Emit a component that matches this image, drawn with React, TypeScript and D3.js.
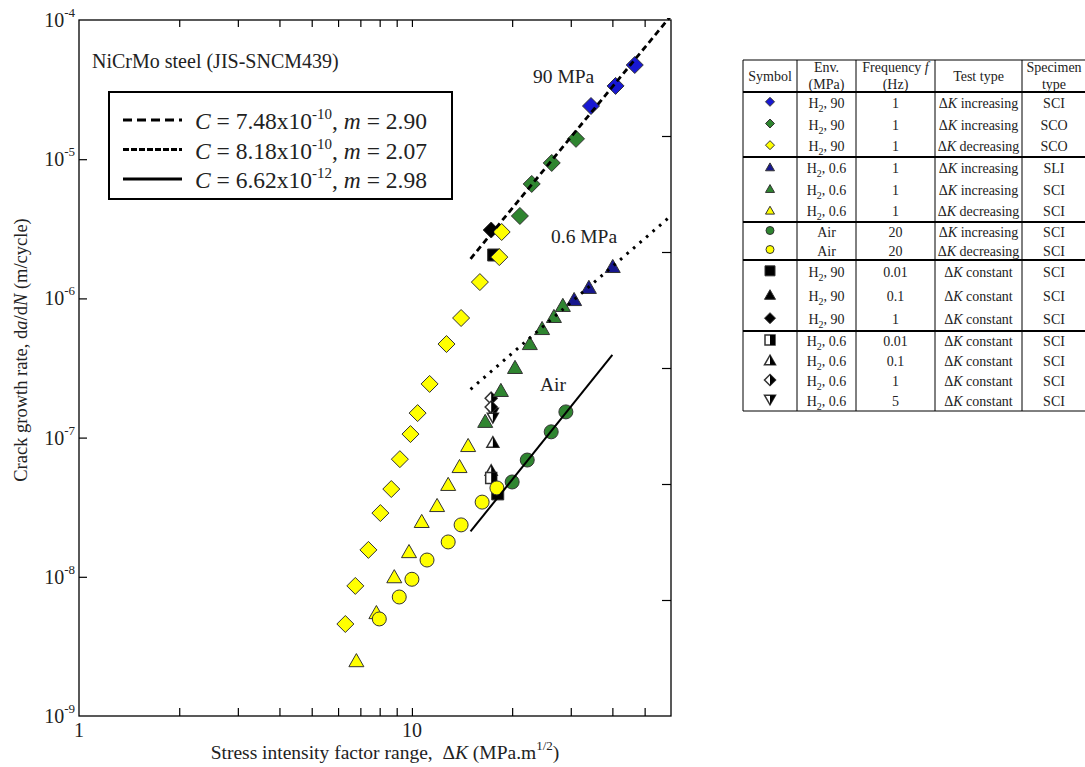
import React, { useEffect, useRef } from "react";
import * as d3 from "d3";

const W = 1085;
const H = 767;

// [ΔK (MPa.m^1/2), da/dN (m/cycle)]
const h90IncSCI = [[46.7, 4.75e-5], [40.9, 3.36e-5], [34.5, 2.41e-5]];
const h90IncSCO = [[31.1, 1.4e-5], [26.3, 9.4e-6], [22.9, 6.64e-6], [21.1, 3.91e-6]];
const h90DecSCO = [[18.6, 3.0e-6], [18.3, 1.98e-6], [16.0, 1.31e-6], [14.05, 7.23e-7], [12.7, 4.7e-7], [11.3, 2.43e-7], [10.4, 1.5e-7], [9.9, 1.06e-7], [9.2, 7.0e-8], [8.67, 4.27e-8], [8.04, 2.87e-8], [7.4, 1.56e-8], [6.76, 8.6e-9], [6.31, 4.58e-9]];
const h06IncSLI = [[40.1, 1.71e-6], [34.0, 1.21e-6], [30.7, 9.9e-7]];
const h06IncSCI = [[28.4, 8.98e-7], [26.7, 7.48e-7], [24.6, 6.13e-7], [22.6, 4.78e-7], [20.4, 3.22e-7], [18.5, 2.2e-7], [16.6, 1.32e-7]];
const h06DecSCI = [[14.75, 8.85e-8], [13.9, 6.25e-8], [12.85, 4.65e-8], [11.9, 3.28e-8], [10.7, 2.52e-8], [9.8, 1.53e-8], [8.85, 1.01e-8], [7.82, 5.58e-9], [6.81, 2.52e-9]];
const airInc = [[29.0, 1.53e-7], [26.2, 1.1e-7], [22.2, 6.9e-8], [20.0, 4.8e-8]];
const airDec = [[18.0, 4.35e-8], [16.25, 3.44e-8], [14.05, 2.36e-8], [12.85, 1.78e-8], [11.1, 1.32e-8], [10.0, 9.6e-9], [9.16, 7.16e-9], [7.98, 4.98e-9]];
const h90Const001 = [[17.6, 2.05e-6], [18.1, 3.94e-8]];
const h90Const1 = [[17.3, 3.1e-6]];
const h06Const001 = [[17.3, 5.13e-8]];
const h06Const01 = [[17.5, 9.3e-8], [17.3, 5.85e-8]];
const h06Const1 = [[17.3, 1.92e-7], [17.3, 1.66e-7]];
const h06Const5 = [[17.5, 1.5e-7], [17.5, 1.38e-7]];

// Paris law fits da/dN = C ΔK^m
const fitLabels = ["90 MPa", "0.6 MPa", "Air"];
const fitC = [7.48e-10, 8.18e-10, 6.62e-12];
const fitCmant = ["7.48", "8.18", "6.62"];
const fitCexp = ["-10", "-10", "-12"];
const fitM = [2.9, 2.07, 2.98];
const fitRange = [[15, 60], [15, 60], [15, 40]];

const xTicks = [2, 3, 4, 5, 6, 7, 8, 9, 10, 20, 30, 40, 50];
const yTicks = [1e-4, 1e-5, 1e-6, 1e-7, 1e-8, 1e-9];
const yTickExp = ["-4", "-5", "-6", "-7", "-8", "-9"];
const yRightTicks = [1e-5, 1e-6, 1e-7, 1e-8, 1e-9];

// table
const tabSymbol = ["blueD", "greenD", "yellowD", "blueT", "greenT", "yellowT", "greenC", "yellowC", "blackS", "blackT", "blackD", "halfS", "halfT", "halfD", "halfV"];
const tabGas = ["H", "H", "H", "H", "H", "H", "Air", "Air", "H", "H", "H", "H", "H", "H", "H"];
const tabP = ["90", "90", "90", "0.6", "0.6", "0.6", "", "", "90", "90", "90", "0.6", "0.6", "0.6", "0.6"];
const tabFreq = ["1", "1", "1", "1", "1", "1", "20", "20", "0.01", "0.1", "1", "0.01", "0.1", "1", "5"];
const tabTest = ["increasing", "increasing", "decreasing", "increasing", "increasing", "decreasing", "increasing", "decreasing", "constant", "constant", "constant", "constant", "constant", "constant", "constant"];
const tabSpec = ["SCI", "SCO", "SCO", "SLI", "SCI", "SCI", "SCI", "SCI", "SCI", "SCI", "SCI", "SCI", "SCI", "SCI", "SCI"];
const tabGroups = [3, 3, 2, 3, 4];

const BLUE = "#1818d2";
const NAVY = "#17178e";
const GREEN = "#2f8530";
const YELLOW = "#ffff00";
const EDGE = "#333";

function marker(g: any, kind: string, cx: number, cy: number, s: number, fill: string) {
  const p = (d: string, f: string, sw = 1) =>
    g.append("path").attr("d", d).attr("fill", f).attr("stroke", EDGE).attr("stroke-width", sw).attr("stroke-linejoin", "miter");
  const dia = `M${cx},${cy - s}L${cx + s},${cy}L${cx},${cy + s}L${cx - s},${cy}Z`;
  const h = s * 1.75;
  const tri = `M${cx},${cy - h / 2}L${cx + s},${cy + h / 2}L${cx - s},${cy + h / 2}Z`;
  if (kind === "diamond") p(dia, fill);
  else if (kind === "triangle") p(tri, fill);
  else if (kind === "circle") g.append("circle").attr("cx", cx).attr("cy", cy).attr("r", s).attr("fill", fill).attr("stroke", EDGE).attr("stroke-width", 1);
  else if (kind === "square") p(`M${cx - s},${cy - s}h${2 * s}v${2 * s}h${-2 * s}Z`, fill);
  else if (kind === "halfS") {
    p(`M${cx - s},${cy - s}h${2 * s}v${2 * s}h${-2 * s}Z`, "#fff", 1.5);
    p(`M${cx},${cy - s}h${s}v${2 * s}h${-s}Z`, "#000", 0);
  } else if (kind === "halfT") {
    p(tri, "#fff", 1.5);
    p(`M${cx},${cy - h / 2}L${cx + s},${cy + h / 2}L${cx},${cy + h / 2}Z`, "#000", 0);
  } else if (kind === "halfD") {
    p(dia, "#fff", 1.5);
    p(`M${cx},${cy - s}L${cx + s},${cy}L${cx},${cy + s}Z`, "#000", 0);
  } else if (kind === "halfV") {
    p(`M${cx - s},${cy - h / 2}L${cx + s},${cy - h / 2}L${cx},${cy + h / 2}Z`, "#fff", 1.5);
    p(`M${cx},${cy - h / 2}L${cx + s},${cy - h / 2}L${cx},${cy + h / 2}Z`, "#000", 0);
  }
}

const symbolStyle: Record<string, [string, string]> = {
  blueD: ["diamond", BLUE], greenD: ["diamond", GREEN], yellowD: ["diamond", YELLOW],
  blueT: ["triangle", NAVY], greenT: ["triangle", GREEN], yellowT: ["triangle", YELLOW],
  greenC: ["circle", GREEN], yellowC: ["circle", YELLOW],
  blackS: ["square", "#000"], blackT: ["triangle", "#000"], blackD: ["diamond", "#000"],
  halfS: ["halfS", "#000"], halfT: ["halfT", "#000"], halfD: ["halfD", "#000"], halfV: ["halfV", "#000"],
};

export default function App() {
  const ref = useRef<SVGSVGElement>(null);

  useEffect(() => {
    const svg = d3.select(ref.current);
    svg.selectAll("*").remove();

    const x = d3.scaleLog().domain([1, 60]).range([79, 671]);
    const y = d3.scaleLog().domain([1e-9, 1e-4]).range([716, 20]);
    const yR = d3.scaleLog().domain([1e-10, 1e-4]).range([716, 20]);

    svg.append("rect").attr("width", W).attr("height", H).attr("fill", "#fff");

    // axes ticks (inward)
    svg.append("g").attr("transform", "translate(0,716)")
      .call(d3.axisBottom(x).tickValues(xTicks).tickSize(-8).tickFormat(() => ""))
      .call((g: any) => g.select(".domain").remove());
    svg.append("g").attr("transform", "translate(0,20)")
      .call(d3.axisTop(x).tickValues(xTicks).tickSize(-7).tickFormat(() => ""))
      .call((g: any) => g.select(".domain").remove());
    svg.append("g").attr("transform", "translate(79,0)")
      .call(d3.axisLeft(y).tickValues(yTicks.slice(1, 5)).tickSize(-8).tickFormat(() => ""))
      .call((g: any) => g.select(".domain").remove());
    svg.append("g").attr("transform", "translate(671,0)")
      .call(d3.axisRight(yR).tickValues(yRightTicks).tickSize(-9).tickFormat(() => ""))
      .call((g: any) => g.select(".domain").remove());
    svg.selectAll(".tick line").attr("stroke", "#000").attr("stroke-width", 1.2);

    svg.append("rect").attr("x", 79).attr("y", 20).attr("width", 592).attr("height", 696)
      .attr("fill", "none").attr("stroke", "#000").attr("stroke-width", 1.3);

    // tick labels
    yTicks.forEach((v, i) => {
      const t = svg.append("text").attr("x", 75).attr("y", y(v) + 7).attr("text-anchor", "end").attr("font-size", 20).attr("fill", "#222");
      t.append("tspan").text("10");
      t.append("tspan").attr("dy", -10).attr("font-size", 13).text(yTickExp[i]);
    });
    [1, 10].forEach((v) => {
      svg.append("text").attr("x", x(v)).attr("y", 737).attr("text-anchor", "middle").attr("font-size", 20).attr("fill", "#222").text(String(v));
    });

    // axis titles
    const xt = svg.append("text").attr("x", 385).attr("y", 759).attr("text-anchor", "middle").attr("font-size", 19.5).attr("fill", "#222");
    xt.append("tspan").text("Stress intensity factor range,\u00a0 \u0394");
    xt.append("tspan").attr("font-style", "italic").text("K");
    xt.append("tspan").text(" (MPa.m");
    xt.append("tspan").attr("dy", -9).attr("font-size", 13).text("1/2");
    xt.append("tspan").attr("dy", 9).text(")");

    const yt = svg.append("text").attr("transform", "translate(27,350) rotate(-90)").attr("text-anchor", "middle").attr("font-size", 18.5).attr("fill", "#222");
    yt.append("tspan").text("Crack growth rate, d");
    yt.append("tspan").attr("font-style", "italic").text("a");
    yt.append("tspan").text("/d");
    yt.append("tspan").attr("font-style", "italic").text("N");
    yt.append("tspan").text(" (m/cycle)");

    // plot content
    svg.append("clipPath").attr("id", "plotClip").append("rect").attr("x", 79).attr("y", 18).attr("width", 594).attr("height", 698);
    const plot = svg.append("g").attr("clip-path", "url(#plotClip)");

    const pts = (data: number[][], kind: string, s: number, fill: string) => {
      data.forEach((d) => marker(plot, kind, x(d[0]), y(d[1]), s, fill));
    };
    pts(h06Const5, "halfV", 5.5, "#000");
    pts(h06Const1, "halfD", 6, "#000");
    pts(h06Const01, "halfT", 6, "#000");
    pts(h06Const001, "halfS", 5.5, "#000");
    pts(h90Const001, "square", 6, "#000");
    pts(h90Const1, "diamond", 8, "#000");

    pts(h90IncSCI, "diamond", 8.5, BLUE);
    pts(h90IncSCO, "diamond", 8.5, GREEN);
    pts(h90DecSCO, "diamond", 8.5, YELLOW);
    pts(h06IncSCI, "triangle", 7.5, GREEN);
    pts(h06IncSLI, "triangle", 7.5, NAVY);
    pts(h06DecSCI, "triangle", 7.5, YELLOW);
    pts(airInc, "circle", 7, GREEN);
    pts(airDec, "circle", 7, YELLOW);

    const dashes = ["6,4", "2.6,6", null];
    const widths = [2.8, 3, 2];
    fitC.forEach((C, i) => {
      const line = d3.line<number>().x((k) => x(k)).y((k) => y(C * Math.pow(k, fitM[i])));
      const path = plot.append("path").attr("d", line(fitRange[i])).attr("fill", "none").attr("stroke", "#000").attr("stroke-width", widths[i]);
      if (dashes[i]) path.attr("stroke-dasharray", dashes[i]);
    });

    // annotations
    const labelPos = [[533, 83], [551, 243], [540, 391]];
    fitLabels.forEach((l, i) => {
      svg.append("text").attr("x", labelPos[i][0]).attr("y", labelPos[i][1]).attr("font-size", 19.5).attr("fill", "#222").text(l);
    });
    svg.append("text").attr("x", 92).attr("y", 68).attr("font-size", 20).attr("fill", "#222").text("NiCrMo steel (JIS-SNCM439)");

    // legend
    svg.append("rect").attr("x", 109).attr("y", 92).attr("width", 343).attr("height", 107)
      .attr("fill", "#fff").attr("stroke", "#000").attr("stroke-width", 2);
    const legDash = ["9,5", "6,2", null];
    const legWidth = [3, 3, 3];
    fitC.forEach((_, i) => {
      const ly = 120 + i * 29.5;
      const l = svg.append("line").attr("x1", 123).attr("x2", 182).attr("y1", ly).attr("y2", ly)
        .attr("stroke", "#000").attr("stroke-width", legWidth[i]);
      if (legDash[i]) l.attr("stroke-dasharray", legDash[i]);
      const t = svg.append("text").attr("x", 195).attr("y", ly + 9).attr("font-size", 23.5).attr("fill", "#222");
      t.append("tspan").attr("font-style", "italic").text("C");
      t.append("tspan").text(` = ${fitCmant[i]}x10`);
      t.append("tspan").attr("dy", -10).attr("font-size", 15).text(fitCexp[i]);
      t.append("tspan").attr("dy", 10).text(", ");
      t.append("tspan").attr("font-style", "italic").text("m");
      t.append("tspan").text(` = ${fitM[i].toFixed(2)}`);
    });

    // table
    const colX = [743, 797, 856, 935, 1022, 1090];
    const colC = colX.slice(0, 5).map((c, i) => (c + colX[i + 1]) / 2);
    colC[4] = 1054;
    const tTop = 60;
    const groupY = [92, 157, 222, 260, 331, 411];
    const tab = svg.append("g").attr("font-size", 14).attr("fill", "#222");

    const head = (cx: number, lines: string[]) => {
      lines.forEach((s, j) => {
        const yy = lines.length === 1 ? 81 : 72 + j * 17;
        tab.append("text").attr("x", cx).attr("y", yy).attr("text-anchor", "middle").text(s);
      });
    };
    head(colC[0], ["Symbol"]);
    head(colC[1], ["Env.", "(MPa)"]);
    const fq = tab.append("text").attr("x", colC[2]).attr("y", 72).attr("text-anchor", "middle");
    fq.append("tspan").text("Frequency ");
    fq.append("tspan").attr("font-style", "italic").text("f");
    tab.append("text").attr("x", colC[2]).attr("y", 89).attr("text-anchor", "middle").text("(Hz)");
    head(colC[3], ["Test type"]);
    head(colC[4], ["Specimen", "type"]);

    let r = 0;
    tabGroups.forEach((n, gi) => {
      const y0 = groupY[gi];
      const rh = (groupY[gi + 1] - y0) / n;
      for (let k = 0; k < n; k++, r++) {
        const cy = y0 + rh * (k + 0.5);
        const base = cy + 5;
        const [kind, fill] = symbolStyle[tabSymbol[r]];
        const big = r >= 8;
        const s = big ? (kind === "square" || kind === "halfS" ? 5 : 5.5) : (kind === "circle" ? 4 : 4.5);
        marker(tab, kind, colC[0], cy - 1, s, fill);

        const env = tab.append("text").attr("x", colC[1]).attr("y", base).attr("text-anchor", "middle");
        if (tabGas[r] === "H") {
          env.append("tspan").text("H");
          env.append("tspan").attr("dy", 4).attr("font-size", 10).text("2");
          env.append("tspan").attr("dy", -4).text(`, ${tabP[r]}`);
        } else env.text("Air");
        tab.append("text").attr("x", colC[2]).attr("y", base).attr("text-anchor", "middle").text(tabFreq[r]);
        const tt = tab.append("text").attr("x", colC[3]).attr("y", base).attr("text-anchor", "middle");
        tt.append("tspan").text("\u0394");
        tt.append("tspan").attr("font-style", "italic").text("K");
        tt.append("tspan").text(` ${tabTest[r]}`);
        tab.append("text").attr("x", colC[4]).attr("y", base).attr("text-anchor", "middle").text(tabSpec[r]);
      }
    });

    const hl = (yy: number, w: number) =>
      tab.append("line").attr("x1", colX[0]).attr("x2", colX[5]).attr("y1", yy).attr("y2", yy).attr("stroke", "#000").attr("stroke-width", w);
    hl(tTop, 1);
    groupY.forEach((yy, i) => hl(yy, i === groupY.length - 1 ? 1 : 2));
    colX.slice(0, 5).forEach((cx) => {
      tab.append("line").attr("x1", cx).attr("x2", cx).attr("y1", tTop).attr("y2", groupY[5]).attr("stroke", "#000").attr("stroke-width", 1);
    });
  }, []);

  return (
    <svg
      ref={ref}
      width={W}
      height={H}
      style={{ position: "absolute", left: 0, top: 0 }}
      fontFamily="'Liberation Serif', 'Times New Roman', serif"
    />
  );
}
